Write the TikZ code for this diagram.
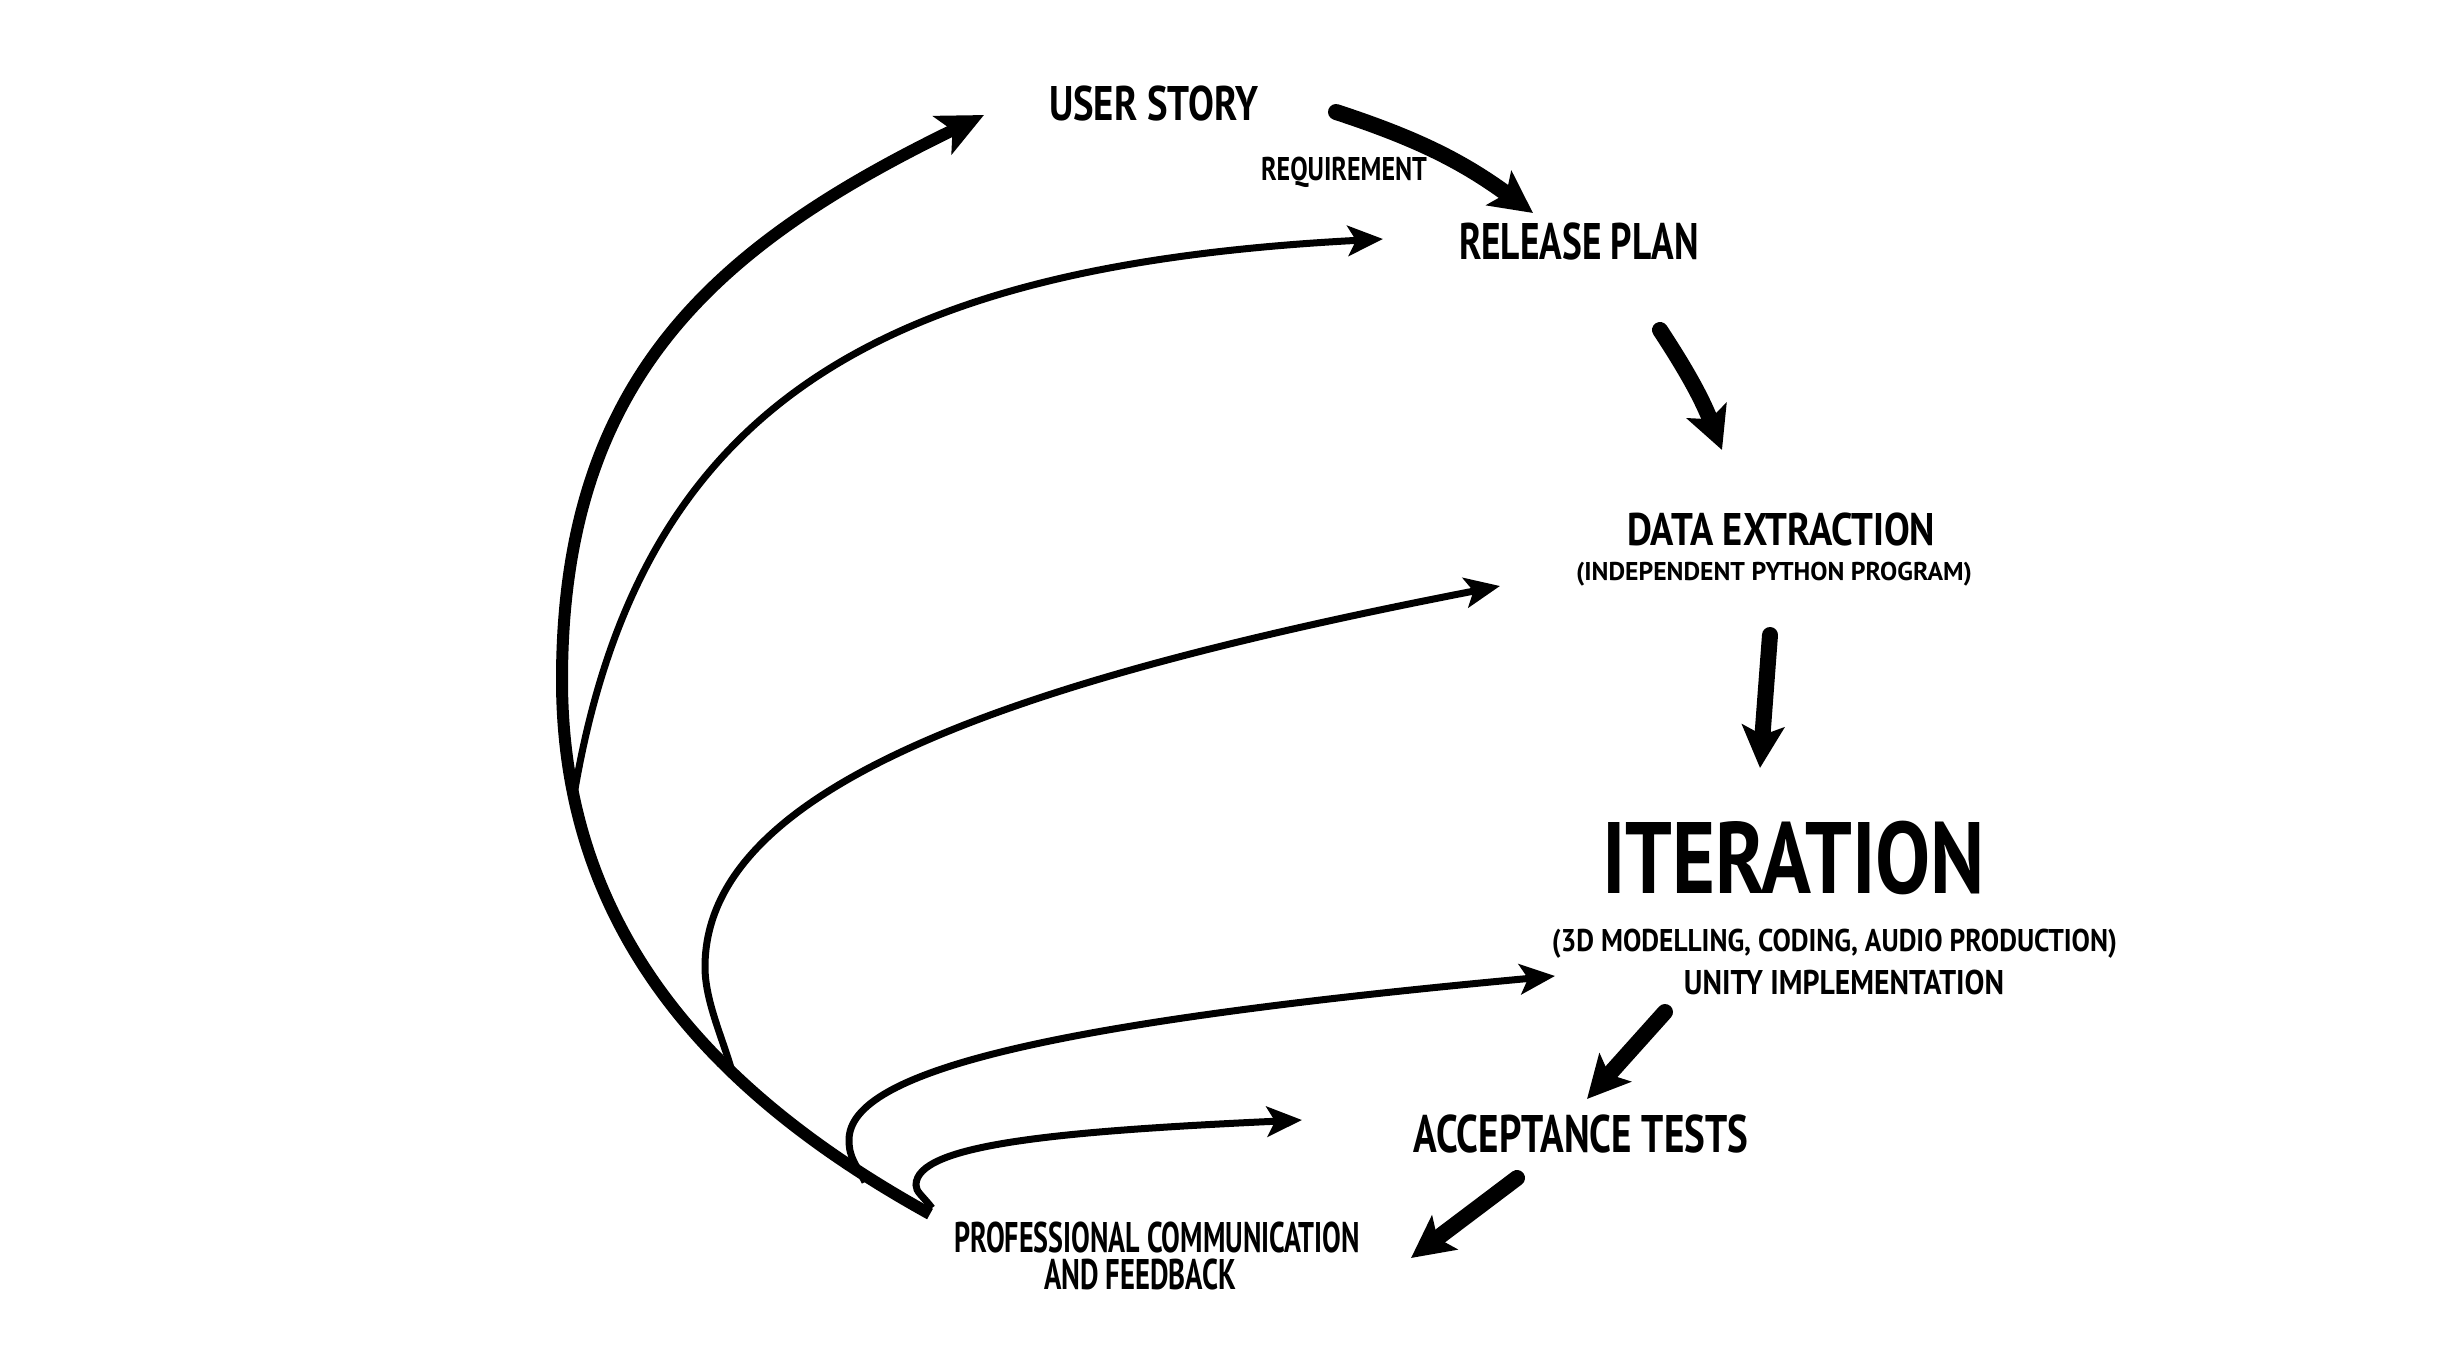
\documentclass[tikz,border=0pt]{standalone}
\usepackage{fontspec}
\setmainfont{PT Sans}
\usetikzlibrary{arrows.meta}
\newcommand\fitbox[3]{\resizebox{#1}{#2}{\smash{#3}\rule{0pt}{\fontcharht\font`E}}}
\begin{document}
\begin{tikzpicture}[x=1pt,y=-1pt,
  every node/.style={inner sep=0pt, font=\bfseries},
  flow/.style={line width=16pt, line cap=round, -{Stealth[length=42pt,width=42pt,inset=9pt]}},
  fbthick/.style={line width=12pt, -{Stealth[length=46pt,width=42pt,inset=11pt]}},
  fbthin/.style={line width=7pt, -{Stealth[length=35pt,width=30pt,inset=8pt]}}]
\path[use as bounding box, fill=white] (0,0) rectangle (2445,1349);

% labels
\node (us) at (1153.5,103) {\fitbox{209pt}{34pt}{USER STORY}};
\node (req) at (1344,169) {\fitbox{166pt}{23pt}{REQUIREMENT}};
\node (rp) at (1579,241) {\fitbox{240pt}{36pt}{RELEASE PLAN}};
\node (de) at (1781,529) {\fitbox{308pt}{32pt}{DATA EXTRACTION}};
\node (desub) at (1774,571) {\fitbox{396pt}{18pt}{(INDEPENDENT PYTHON PROGRAM)}};
\node (it) at (1793.5,857.5) {\fitbox{383pt}{71pt}{ITERATION}};
\node (itsub) at (1834.5,940) {\fitbox{565pt}{22pt}{(3D MODELLING, CODING, AUDIO PRODUCTION)}};
\node (unity) at (1844,982) {\fitbox{320pt}{24pt}{UNITY IMPLEMENTATION}};
\node (at) at (1581,1134) {\fitbox{334pt}{37pt}{ACCEPTANCE TESTS}};
\node[align=center, font=\bfseries\fontsize{10}{37}\selectfont] (pc) at (1157,1256)
  {\fitbox{406pt}{30pt}{PROFESSIONAL COMMUNICATION}\\\fitbox{192pt}{30pt}{AND FEEDBACK}\hspace*{34pt}};

% main flow arrows
\coordinate (s1) at (1336,112); \coordinate (e1) at (1533,213);
\coordinate (s2) at (1660,330); \coordinate (e2) at (1722,450);
\coordinate (s3) at (1770,635); \coordinate (e3) at (1760,768);
\coordinate (s4) at (1665,1012); \coordinate (e4) at (1587,1099);
\coordinate (s5) at (1517,1178); \coordinate (e5) at (1411,1258);
\draw[flow] (s1) to[bend left=9] (e1);
\draw[flow] (s2) to[bend left=6] (e2);
\draw[flow] (s3) -- (e3);
\draw[flow] (s4) -- (e4);
\draw[flow] (s5) -- (e5);

% feedback arrows
\coordinate (fb) at (930,1214);
\coordinate (bm) at (574,795);
\coordinate (cm) at (733,1075);
\coordinate (dm) at (865,1182);
\coordinate (em) at (932,1208);
\coordinate (tus) at (984,115);
\coordinate (trp) at (1383,239);
\coordinate (tde) at (1500,586);
\coordinate (tit) at (1555,976);
\coordinate (tat) at (1302,1120);

\draw[fbthin] (bm) .. controls (640,401) and (884,265) .. (trp);
\draw[fbthin] (cm) .. controls (724,1041) and (705,1002) .. (705,967)
   .. controls (705,787) and (1010,681) .. (tde);
\draw[fbthin] (dm) .. controls (856,1164) and (849,1158) .. (849,1140)
   .. controls (849,1070) and (1057,1022) .. (tit);
\draw[fbthin] (em) .. controls (922,1195) and (916,1192) .. (916,1185)
   .. controls (916,1145) and (1052,1131.5) .. (tat);
\draw[fbthick] (fb) .. controls (711,1093) and (562,930) .. (562,680)
   .. controls (562,380) and (714,246) .. (tus);
\end{tikzpicture}
\end{document}
